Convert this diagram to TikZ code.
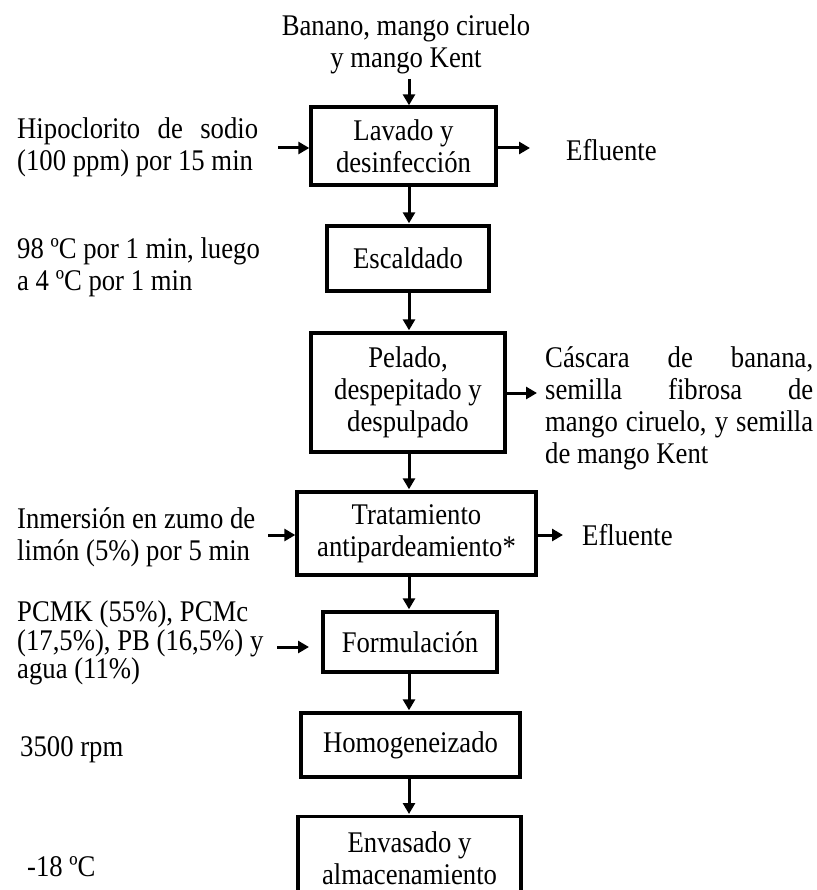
\documentclass[tikz,border=0pt]{standalone}
\usepackage{fontspec}
\setmainfont[FakeStretch=0.89]{Liberation Serif}
\usetikzlibrary{arrows.meta}
\newcommand{\fs}{\fontsize{30}{32}\selectfont}
\newcommand{\jl}[2]{\makebox[#1][s]{#2}}
\begin{document}
\begin{tikzpicture}[x=1pt,y=-1pt,
  box/.style={draw,line width=3.4pt,inner sep=0pt,align=center,font=\fs},
  lbl/.style={inner sep=0pt,align=left,font=\fs,anchor=west},
  arr/.style={line width=3pt,-{Triangle[length=11pt,width=12pt]}}]
\useasboundingbox (0,0) rectangle (816,890);
\clip (0,0) rectangle (816,890);
\coordinate (col) at (409,0);
% boxes
\node[box,minimum width=185pt,minimum height=78pt] (b1) at (403.5,146) {Lavado y\\desinfección};
\node[box,minimum width=162pt,minimum height=65pt] (b2) at (408,258.5) {Escaldado};
\node[box,minimum width=194pt,minimum height=119pt] (b3) at (408,392.5) {Pelado,\\despepitado y\\despulpado};
\node[box,minimum width=239pt,minimum height=83pt] (b4) at (416.5,533.5) {Tratamiento\\antipardeamiento*};
\node[box,minimum width=174pt,minimum height=60pt] (b5) at (410,642) {Formulación};
\node[box,minimum width=219pt,minimum height=64pt] (b6) at (410.5,745) {Homogeneizado};
\node[box,minimum width=223pt,minimum height=110pt,anchor=north] (b7) at (409.5,815) {};
\node[inner sep=0pt,align=center,font=\fs] (b7t) at (409.5,858) {Envasado y\\almacenamiento};
% labels
\node[inner sep=0pt,align=center,font=\fs] (top) at (406,44) {Banano, mango ciruelo\\y mango Kent};
\node[lbl] (l1) at (17,147) {\jl{241pt}{Hipoclorito de sodio}\\(100 ppm) por 15 min};
\node[lbl] (l2) at (17,267) {98 ºC por 1 min, luego\\a 4 ºC por 1 min};
\node[lbl] (l4) at (17,537) {Inmersión en zumo de\\limón (5\%) por 5 min};
\node[lbl,font=\fontsize{30}{28.5}\selectfont] (l5) at (17,643) {\jl{231pt}{PCMK (55\%), PCMc}\\(17,5\%), PB (16,5\%) y\\agua (11\%)};
\node[lbl] (l6) at (20,750) {3500 rpm};
\node[lbl] (l7) at (27,867) {-18 ºC};
\node[lbl] (r1) at (566,150) {Efluente};
\node[lbl] (r3) at (545,408) {\jl{268pt}{Cáscara de banana,}\\\jl{268pt}{semilla fibrosa de}\\\jl{268pt}{mango ciruelo, y semilla}\\de mango Kent};
\node[lbl] (r4) at (582,535) {Efluente};
% free ends
\coordinate (a1) at (278,148);
\coordinate (e1) at (530,148);
\coordinate (e3) at (537,393);
\coordinate (a4) at (268,535);
\coordinate (e4) at (563,535);
\coordinate (a5) at (277,647);
\coordinate (t5) at (309,647);
% vertical arrows
\draw[arr] (top.south -| col) ++(0,5) coordinate (ts) -- (b1.north -| col);
\draw[arr] (b1.south -| col) -- ([yshift=1pt]b2.north -| col);
\draw[arr] (b2.south -| col) -- ([yshift=1pt]b3.north -| col);
\draw[arr] (b3.south -| col) -- ([yshift=1pt]b4.north -| col);
\draw[arr] (b4.south -| col) -- ([yshift=1pt]b5.north -| col);
\draw[arr] (b5.south -| col) -- ([yshift=1pt]b6.north -| col);
\draw[arr] (b6.south -| col) -- ([yshift=1pt]b7.north -| col);
% horizontal arrows
\draw[arr] (a1) -- (a1 -| b1.west);
\draw[arr] (e1 -| b1.east) -- (e1);
\draw[arr] (e3 -| b3.east) -- (e3);
\draw[arr] (a4) -- (a4 -| b4.west);
\draw[arr] (e4 -| b4.east) -- (e4);
\draw[arr] (a5) -- (t5);
\end{tikzpicture}
\end{document}
